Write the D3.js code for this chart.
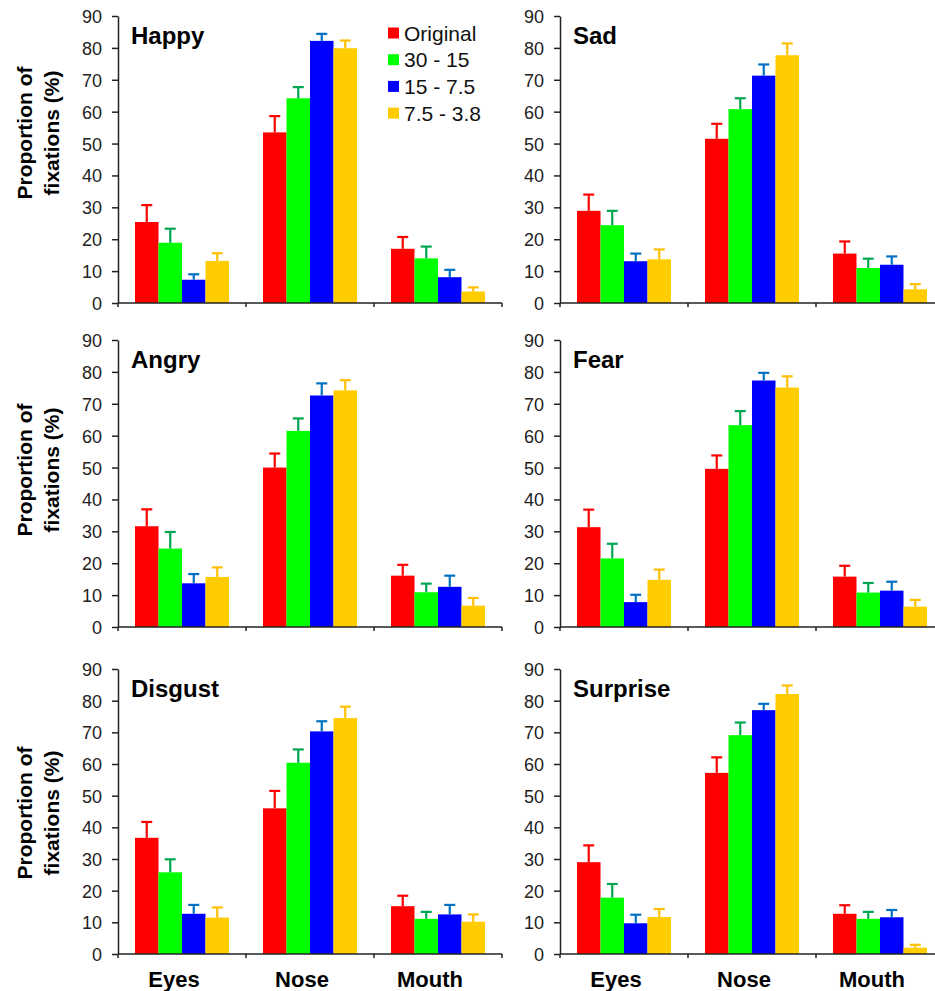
<!DOCTYPE html>
<html>
<head>
<meta charset="utf-8">
<script src="https://cdn.jsdelivr.net/npm/d3@7"></script>
<style>
  body { margin: 0; background: white; }
  text { font-family: "Liberation Sans", Arial, sans-serif; }
</style>
</head>
<body>
<script>
// data: mean proportion of fixations (%) and error (upper bar) per region x condition
var regions = ["Eyes", "Nose", "Mouth"]
var conditions = ["Original", "30 - 15", "15 - 7.5", "7.5 - 3.8"]
var emotions = ["Happy", "Sad", "Angry", "Fear", "Disgust", "Surprise"]
var yTicks = [0, 10, 20, 30, 40, 50, 60, 70, 80, 90]

var happyMean    = [[25.4, 18.9, 7.3, 13.2], [53.5, 64.2, 82.2, 79.9], [17.0, 14.0, 8.1, 3.6]]
var happyErr     = [[5.3, 4.4, 1.7, 2.4], [5.1, 3.5, 2.2, 2.4], [3.7, 3.7, 2.3, 1.3]]
var sadMean      = [[28.9, 24.4, 13.1, 13.7], [51.5, 60.8, 71.3, 77.7], [15.5, 11.0, 12.0, 4.3]]
var sadErr       = [[5.1, 4.5, 2.4, 3.1], [4.7, 3.4, 3.5, 3.7], [3.8, 2.9, 2.6, 1.6]]
var angryMean    = [[31.6, 24.6, 13.7, 15.7], [50.0, 61.5, 72.6, 74.2], [16.1, 10.9, 12.6, 6.7]]
var angryErr     = [[5.3, 5.2, 2.9, 3.0], [4.4, 3.9, 3.8, 3.2], [3.4, 2.7, 3.5, 2.4]]
var fearMean     = [[31.3, 21.5, 7.8, 14.8], [49.6, 63.3, 77.3, 75.1], [15.8, 10.8, 11.4, 6.4]]
var fearErr      = [[5.5, 4.6, 2.3, 3.2], [4.2, 4.4, 2.4, 3.5], [3.4, 3.0, 2.8, 2.1]]
var disgustMean  = [[36.7, 25.8, 12.7, 11.5], [46.0, 60.4, 70.3, 74.5], [15.1, 11.1, 12.5, 10.2]]
var disgustErr   = [[5.0, 4.1, 2.8, 3.2], [5.5, 4.2, 3.2, 3.6], [3.3, 2.2, 3.0, 2.3]]
var surpriseMean = [[29.0, 17.8, 9.7, 11.7], [57.2, 69.1, 77.0, 82.1], [12.7, 11.1, 11.6, 2.0]]
var surpriseErr  = [[5.3, 4.3, 2.7, 2.5], [4.9, 4.0, 2.0, 2.7], [2.7, 2.2, 2.3, 0.9]]

var means = [happyMean, sadMean, angryMean, fearMean, disgustMean, surpriseMean]
var errs = [happyErr, sadErr, angryErr, fearErr, disgustErr, surpriseErr]

var barColors = ["#ff0000", "#00ff00", "#0000ff", "#ffcc00"]
var errColors = ["#ff0000", "#00a651", "#0070c0", "#ffc000"]

var w = 935
var h = 991
var bandW = 128

// panel placement (left edge of y axis, top and bottom of the plot)
var cols = [118, 560]
var rows = [{top: 16, bottom: 303, labelY: 133},
            {top: 340, bottom: 627, labelY: 470},
            {top: 669, bottom: 954, labelY: 813}]

var svg = d3.select("body")
	.append("svg")
	.attr("width", w)
	.attr("height", h)

var color = d3.scaleOrdinal().domain(conditions).range(barColors)
var errColor = d3.scaleOrdinal().domain(conditions).range(errColors)

emotions.forEach(function(emo, k){
	var x0 = cols[k % 2]
	var row = rows[Math.floor(k / 2)]

	var xScale = d3.scaleBand()
		.domain(regions)
		.range([x0, x0 + bandW * 3])

	var inner = d3.scaleBand()
		.domain(conditions)
		.range([17, bandW - 17])

	var yScale = d3.scaleLinear()
		.domain([0, 90])
		.range([row.bottom, row.top])

	var g = svg.append("g")

	var data = []
	regions.forEach(function(r, i){
		conditions.forEach(function(c, j){
			data.push({region: r, cond: c, v: means[k][i][j], e: errs[k][i][j]})
		})
	})

	// bars
	g.selectAll("rect.bar")
		.data(data)
		.enter()
		.append("rect")
		.attr("class", "bar")
		.attr("x", (d) => xScale(d.region) + inner(d.cond))
		.attr("y", (d) => yScale(d.v))
		.attr("width", inner.bandwidth())
		.attr("height", (d) => yScale(0) - yScale(d.v))
		.attr("fill", (d) => color(d.cond))

	// error bars (upper only)
	var eb = g.selectAll("g.err")
		.data(data)
		.enter()
		.append("g")
		.attr("stroke", (d) => errColor(d.cond))
		.attr("stroke-width", 2.2)
	eb.append("line")
		.attr("x1", (d) => xScale(d.region) + inner(d.cond) + inner.bandwidth() / 2)
		.attr("x2", (d) => xScale(d.region) + inner(d.cond) + inner.bandwidth() / 2)
		.attr("y1", (d) => yScale(d.v))
		.attr("y2", (d) => yScale(d.v + d.e))
	eb.append("line")
		.attr("x1", (d) => xScale(d.region) + inner(d.cond) + inner.bandwidth() / 2 - 5.5)
		.attr("x2", (d) => xScale(d.region) + inner(d.cond) + inner.bandwidth() / 2 + 5.5)
		.attr("y1", (d) => yScale(d.v + d.e))
		.attr("y2", (d) => yScale(d.v + d.e))

	// y axis
	var yAxis = d3.axisLeft(yScale).tickValues(yTicks).tickSize(6).tickPadding(10).tickSizeOuter(0)
	var ya = g.append("g")
		.attr("transform", "translate(" + x0 + ",0)")
		.call(yAxis)
	ya.select(".domain").attr("stroke", "#222").attr("stroke-width", 1.5)
	ya.selectAll(".tick line").attr("stroke", "#222").attr("stroke-width", 1.5)
	ya.selectAll("text")
		.attr("fill", "#222")
		.style("font-size", "18px")
		.attr("dy", "0.36em")

	// x axis line with ticks at band edges
	g.append("line")
		.attr("x1", x0).attr("x2", x0 + bandW * 3)
		.attr("y1", yScale(0)).attr("y2", yScale(0))
		.attr("stroke", "#222").attr("stroke-width", 1.5)
	g.selectAll("line.xt")
		.data([0, 1, 2, 3])
		.enter()
		.append("line")
		.attr("x1", (d) => x0 + d * bandW)
		.attr("x2", (d) => x0 + d * bandW)
		.attr("y1", yScale(0))
		.attr("y2", yScale(0) + 4)
		.attr("stroke", "#222").attr("stroke-width", 1.5)

	// title
	g.append("text")
		.attr("x", x0 + 13)
		.attr("y", row.top + 28)
		.style("font-size", "24px")
		.style("font-weight", "bold")
		.text(emo)

	// y label on the left column
	if (k % 2 == 0) {
		var lab = g.append("text")
			.attr("transform", "translate(0," + row.labelY + ") rotate(-90)")
			.attr("text-anchor", "middle")
			.style("font-size", "21px")
			.style("font-weight", "bold")
		lab.append("tspan").attr("x", 0).attr("y", 32).text("Proportion of")
		lab.append("tspan").attr("x", 0).attr("y", 59).text("fixations (%)")
	}

	// category labels on bottom row
	if (k >= 4) {
		g.selectAll("text.cat")
			.data(regions)
			.enter()
			.append("text")
			.attr("x", (d) => xScale(d) + xScale.bandwidth() / 2 - 8)
			.attr("y", 987)
			.attr("text-anchor", "middle")
			.style("font-size", "22px")
			.style("font-weight", "bold")
			.text((d) => d)
	}

	// legend in the first panel
	if (k == 0) {
		var leg = g.selectAll("g.leg")
			.data(conditions)
			.enter()
			.append("g")
			.attr("transform", (d, i) => "translate(388," + (33 + i * 26.7) + ")")
		leg.append("rect")
			.attr("x", 0).attr("y", -5.5)
			.attr("width", 11).attr("height", 11)
			.attr("fill", (d) => color(d))
		leg.append("text")
			.attr("x", 16)
			.attr("y", 7.5)
			.style("font-size", "21px")
			.attr("fill", "#111")
			.text((d) => d)
	}
})
</script>
</body>
</html>
